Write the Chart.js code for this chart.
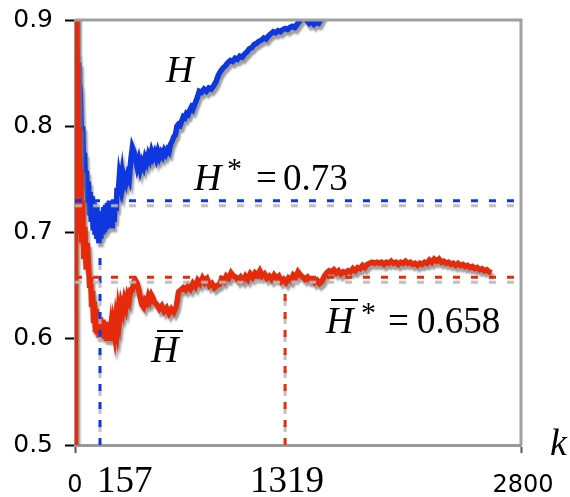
<!DOCTYPE html>
<html>
<head>
<meta charset="utf-8">
<script src="https://cdn.jsdelivr.net/npm/chart.js@4"></script>
<style>
  html, body { margin: 0; padding: 0; background: #fff; }
  canvas { display: block; }
</style>
</head>
<body>
<canvas id="chart" width="570" height="497"></canvas>
<script>
/* ================= Data ================= */

const hK = [0, 6, 12, 18, 24, 30, 36, 42, 48, 54, 60, 66, 72, 78, 84, 90, 96, 102, 108, 114,
  120, 126, 132, 138, 144, 150, 156, 162, 168, 174, 180, 186, 192, 198, 204, 210, 216, 222,
  228, 234, 240, 246, 252, 258, 264, 270, 278, 286, 294, 300, 310, 320, 330, 340, 350, 360,
  370, 380, 390, 400, 410, 420, 430, 440, 450, 460, 470, 480, 490, 500, 510, 520, 530, 540,
  550, 560, 570, 580, 590, 600, 610, 620, 630, 640, 650, 660, 670, 680, 690, 700, 710, 720,
  730, 740, 750, 760, 770, 780, 795, 810, 825, 840, 855, 870, 885, 900, 915, 930, 945, 960,
  975, 990, 1005, 1020, 1035, 1050, 1065, 1080, 1095, 1110, 1125, 1140, 1155, 1170, 1185,
  1200, 1215, 1230, 1245, 1260, 1275, 1290, 1305, 1320, 1335, 1350, 1365, 1380, 1395, 1410,
  1425, 1440, 1455, 1470, 1485, 1500, 1515, 1530, 1545, 1560, 1600];
const hVals = [0.95, 0.7, 0.87, 0.82, 0.86, 0.81, 0.815, 0.78, 0.8, 0.76, 0.775, 0.742, 0.758,
  0.728, 0.748, 0.716, 0.738, 0.71, 0.734, 0.702, 0.728, 0.698, 0.724, 0.694, 0.718, 0.69,
  0.714, 0.694, 0.72, 0.698, 0.724, 0.7, 0.726, 0.703, 0.728, 0.706, 0.73, 0.708, 0.727, 0.704,
  0.722, 0.71, 0.73, 0.72, 0.742, 0.735, 0.752, 0.745, 0.754, 0.744, 0.752, 0.747, 0.754,
  0.75, 0.768, 0.78, 0.776, 0.77, 0.762, 0.768, 0.76, 0.766, 0.762, 0.77, 0.766, 0.773,
  0.769, 0.776, 0.771, 0.775, 0.77, 0.776, 0.771, 0.775, 0.772, 0.777, 0.774, 0.778, 0.776,
  0.783, 0.786, 0.79, 0.792, 0.8, 0.802, 0.801, 0.805, 0.809, 0.808, 0.812, 0.811, 0.815,
  0.818, 0.816, 0.82, 0.824, 0.828, 0.833, 0.832, 0.835, 0.833, 0.836, 0.835, 0.838, 0.842,
  0.848, 0.852, 0.855, 0.857, 0.86, 0.862, 0.861, 0.864, 0.863, 0.866, 0.865, 0.868, 0.87,
  0.873, 0.874, 0.877, 0.878, 0.88, 0.881, 0.883, 0.882, 0.885, 0.887, 0.889, 0.888, 0.89,
  0.889, 0.891, 0.892, 0.891, 0.893, 0.894, 0.893, 0.896, 0.899, 0.903, 0.905, 0.9, 0.897,
  0.899, 0.896, 0.898, 0.897, 0.901, 0.906, 0.912];

const hbK = [0, 2, 5, 8, 12, 16, 20, 25, 30, 36, 42, 48, 55, 62, 70, 78, 86, 92, 98, 104, 110,
  116, 122, 128, 134, 140, 146, 152, 160, 168, 176, 184, 192, 200, 208, 216, 224, 232, 240,
  248, 256, 264, 272, 280, 290, 300, 310, 320, 330, 340, 350, 360, 370, 380, 390, 400, 410,
  420, 430, 440, 450, 460, 470, 480, 490, 500, 515, 530, 545, 560, 575, 590, 605, 620, 635,
  650, 665, 680, 695, 710, 725, 740, 755, 770, 785, 800, 815, 830, 845, 860, 875, 890, 905,
  920, 935, 950, 965, 980, 995, 1010, 1025, 1040, 1055, 1070, 1085, 1100, 1115, 1130, 1145,
  1160, 1175, 1190, 1205, 1220, 1235, 1250, 1265, 1280, 1295, 1310, 1325, 1340, 1355, 1370,
  1385, 1400, 1415, 1430, 1445, 1460, 1475, 1490, 1505, 1520, 1535, 1550, 1565, 1580, 1595,
  1610, 1625, 1640, 1655, 1670, 1685, 1700, 1715, 1730, 1745, 1760, 1775, 1790, 1805, 1820,
  1835, 1850, 1865, 1880, 1895, 1910, 1925, 1940, 1955, 1970, 1985, 2000, 2015, 2030, 2045,
  2060, 2075, 2090, 2105, 2120, 2135, 2150, 2165, 2180, 2195, 2210, 2225, 2240, 2255, 2270,
  2285, 2300, 2315, 2330, 2345, 2360, 2375, 2390, 2405, 2420, 2435, 2450, 2465, 2480, 2495,
  2510, 2525, 2540, 2555, 2570, 2585, 2600, 2615];
const hbVals = [0.5, 1.0, 0.78, 0.95, 0.76, 0.86, 0.72, 0.8, 0.7, 0.76, 0.69, 0.73, 0.675, 0.705,
  0.665, 0.69, 0.665, 0.648, 0.658, 0.63, 0.645, 0.615, 0.635, 0.606, 0.628, 0.604, 0.622,
  0.601, 0.62, 0.602, 0.618, 0.6, 0.616, 0.598, 0.614, 0.599, 0.61, 0.598, 0.612, 0.604, 0.618,
  0.61, 0.626, 0.618, 0.632, 0.626, 0.636, 0.63, 0.64, 0.636, 0.646, 0.646, 0.654, 0.655,
  0.652, 0.646, 0.638, 0.632, 0.63, 0.636, 0.634, 0.64, 0.636, 0.641, 0.638, 0.634, 0.632,
  0.628, 0.631, 0.626, 0.629, 0.624, 0.628, 0.625, 0.63, 0.644, 0.646, 0.648, 0.646, 0.65,
  0.647, 0.652, 0.649, 0.655, 0.652, 0.657, 0.653, 0.656, 0.65, 0.652, 0.648, 0.65, 0.651,
  0.656, 0.654, 0.659, 0.657, 0.662, 0.659, 0.658, 0.655, 0.658, 0.655, 0.659, 0.656, 0.661,
  0.658, 0.662, 0.66, 0.664, 0.659, 0.661, 0.657, 0.659, 0.656, 0.66, 0.657, 0.659, 0.654,
  0.656, 0.653, 0.657, 0.655, 0.66, 0.658, 0.663, 0.66, 0.658, 0.656, 0.658, 0.655, 0.656,
  0.653, 0.655, 0.652, 0.654, 0.659, 0.662, 0.664, 0.663, 0.665, 0.662, 0.664, 0.661, 0.663,
  0.662, 0.664, 0.663, 0.666, 0.664, 0.667, 0.666, 0.669, 0.667, 0.67, 0.671, 0.672, 0.671,
  0.672, 0.671, 0.672, 0.67, 0.672, 0.671, 0.673, 0.671, 0.672, 0.67, 0.672, 0.671, 0.673,
  0.671, 0.672, 0.67, 0.671, 0.669, 0.671, 0.67, 0.672, 0.671, 0.674, 0.672, 0.675, 0.673,
  0.675, 0.672, 0.673, 0.671, 0.672, 0.67, 0.671, 0.669, 0.671, 0.669, 0.67, 0.668, 0.669,
  0.667, 0.668, 0.666, 0.667, 0.665, 0.666, 0.664, 0.665, 0.663, 0.662];

const hStar = 0.73;      // H*
const hbStar = 0.658;    // H-bar*
const kH = 157;
const kHb = 1319;
const xTicks = [0, 157, 1319, 2800];
const yTicks = [0.5, 0.6, 0.7, 0.8, 0.9];

/* ================= Helpers ================= */

const zip = (ks, vs) => ks.map((k, i) => ({ x: k, y: vs[i] }));
const BLUE = "#0f37e0";
const RED = "#e62a0c";
const SERIF = "'Liberation Serif', 'DejaVu Serif', serif";
const SANS = "'DejaVu Sans', sans-serif";

/* drop shadow for every line, like the original figure */
const shadowPlugin = {
  id: "shadow",
  beforeDatasetDraw(chart, args) {
    const ds = chart.data.datasets[args.index];
    const c = chart.ctx;
    c.save();
    if (ds.isRef) {
      c.shadowColor = "rgba(185,185,185,0.95)";
      c.shadowOffsetX = 0;
      c.shadowOffsetY = 5;
      c.shadowBlur = 1;
    } else {
      c.shadowColor = "rgba(125,125,125,0.75)";
      c.shadowOffsetX = 2;
      c.shadowOffsetY = 4;
      c.shadowBlur = 2;
    }
  },
  afterDatasetDraw(chart) {
    chart.ctx.restore();
  },
};

/* frame on top/right, x labels and formula text */
const textPlugin = {
  id: "texts",
  afterDatasetsDraw(chart) {
    const c = chart.ctx;
    const a = chart.chartArea;
    c.save();
    c.strokeStyle = "#a0a0a0";
    c.lineWidth = 3;
    c.beginPath();
    c.moveTo(a.left, a.top);
    c.lineTo(a.right, a.top);
    c.lineTo(a.right, a.bottom);
    c.stroke();
    c.restore();
  },
  afterDraw(chart) {
    const c = chart.ctx;
    const x = chart.scales.x;
    c.save();
    c.fillStyle = "#000";
    c.textBaseline = "alphabetic";

    // x tick labels
    c.font = "24px " + SANS;
    c.textAlign = "center";
    c.fillText("0", x.getPixelForValue(0), 492);
    c.fillText("2800", x.getPixelForValue(2800) + 2, 492);
    c.font = "37px " + SERIF;
    c.textAlign = "left";
    c.fillText(String(kH), x.getPixelForValue(kH) - 3, 492);
    c.textAlign = "center";
    c.fillText(String(kHb), x.getPixelForValue(kHb) + 2, 492);

    // axis name
    c.textAlign = "left";
    c.font = "italic 38px " + SERIF;
    c.fillText("k", 550, 455);

    // H
    c.fillText("H", 166, 82);

    // H* = 0.73
    c.fillText("H", 194, 190);
    c.font = "30px " + SERIF;
    c.fillText("*", 227, 178);
    c.font = "37px " + SERIF;
    c.fillText("=", 256, 190);
    c.fillText(String(hStar), 283, 190);

    // H-bar
    c.font = "italic 38px " + SERIF;
    c.fillText("H", 151, 362);
    c.fillRect(157, 330, 26, 2);

    // H-bar* = 0.658
    c.fillText("H", 326, 333);
    c.fillRect(331, 299, 27, 2);
    c.font = "30px " + SERIF;
    c.fillText("*", 361, 322);
    c.font = "37px " + SERIF;
    c.fillText("=", 388, 333);
    c.fillText(String(hbStar), 417, 333);
    c.restore();
  },
};

/* ================= Chart ================= */

const refLine = (data, color) => ({
  data: data,
  isRef: true,
  borderColor: color,
  borderWidth: 3,
  borderDash: [7, 11],
  borderCapStyle: "butt",
  pointRadius: 0,
  order: 0,
});

new Chart(document.getElementById("chart"), {
  type: "line",
  data: {
    datasets: [
      refLine([{ x: 0, y: hStar }, { x: 2800, y: hStar }], BLUE),
      refLine([{ x: 0, y: hbStar }, { x: 2800, y: hbStar }], RED),
      refLine([{ x: kH, y: 0.5 }, { x: kH, y: 0.686 }], BLUE),
      refLine([{ x: kHb, y: 0.5 }, { x: kHb, y: 0.654 }], RED),
      {
        label: "H",
        data: zip(hK, hVals),
        borderColor: BLUE,
        borderWidth: 5.5,
        pointRadius: 0,
        tension: 0,
        order: 3,
      },
      {
        label: "H-bar",
        data: zip(hbK, hbVals),
        borderColor: RED,
        borderWidth: 5.5,
        pointRadius: 0,
        tension: 0,
        order: 2,
      },
    ],
  },
  options: {
    responsive: false,
    animation: false,
    devicePixelRatio: 1,
    layout: { padding: { top: 20, right: 49, left: 0, bottom: 0 } },
    plugins: {
      legend: { display: false },
      tooltip: { enabled: false },
    },
    scales: {
      x: {
        type: "linear",
        min: 0,
        max: 2800,
        afterBuildTicks: (s) => { s.ticks = xTicks.map((v) => ({ value: v })); },
        afterFit: (s) => {
          s.height = 52;
          s.paddingLeft = 0;
          s.paddingRight = 0;
        },
        ticks: { display: false, autoSkip: false },
        grid: {
          drawOnChartArea: false,
          tickLength: 8,
          tickWidth: 2,
          tickColor: (ctx) =>
            ctx.tick && (ctx.tick.value === 0 || ctx.tick.value === 2800) ? "#555" : "rgba(0,0,0,0)",
        },
        border: { color: "#999", width: 3 },
      },
      y: {
        min: 0.5,
        max: 0.9,
        afterBuildTicks: (s) => { s.ticks = yTicks.map((v) => ({ value: v })); },
        afterFit: (s) => {
          s.width = 75;
          s.paddingTop = 0;
          s.paddingBottom = 0;
        },
        ticks: {
          padding: 12,
          color: "#000",
          font: { family: SANS, size: 25 },
          callback: (v) => v.toFixed(1),
        },
        grid: {
          drawOnChartArea: false,
          tickLength: 10,
          tickWidth: 2,
          tickColor: "#000",
        },
        border: { color: "#999", width: 3 },
      },
    },
  },
  plugins: [shadowPlugin, textPlugin],
});
</script>
</body>
</html>
